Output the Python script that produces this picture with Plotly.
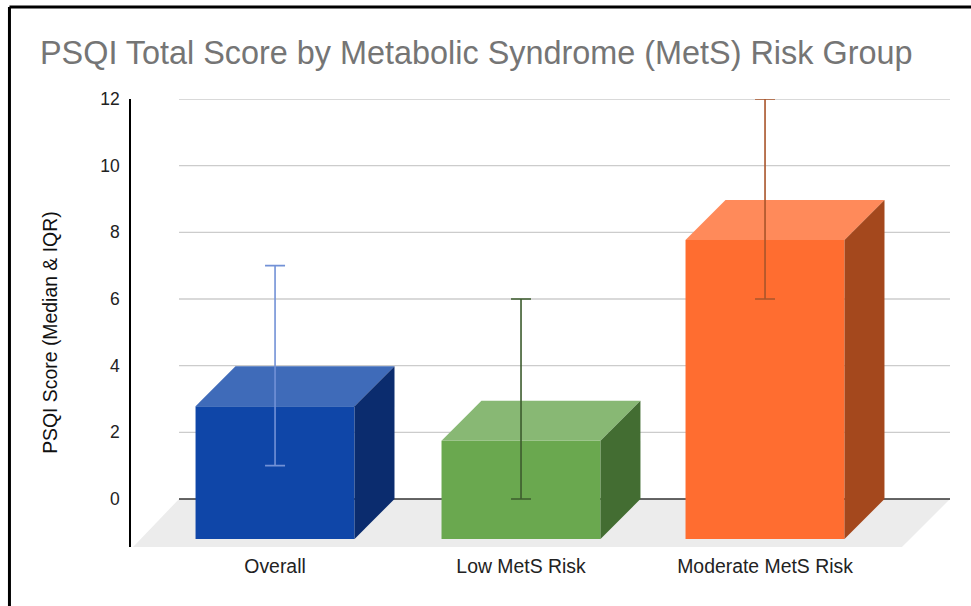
import plotly.graph_objects as go

# --- data ---
categories = ["Overall", "Low MetS Risk", "Moderate MetS Risk"]
medians = [3.98, 2.95, 8.97]
q1 = [1, 0, 6]
q3 = [7, 6, 12]
y_ticks = [0, 2, 4, 6, 8, 10, 12]

# --- styles ---
front_colors = ["#0f46a8", "#6aa84f", "#ff6d30"]
top_colors = ["#3f6bb9", "#88b874", "#ff8a5a"]
side_colors = ["#0b2c6e", "#436d32", "#a4481d"]
err_colors = ["#7291d6", "#3d5c2e", "#a9552b"]
positions = [0, 1.004, 2]

BAR_W = 0.649
DX = 0.163     # depth of the fake 3D view, x units
DY = 1.2       # depth of the fake 3D view, y units
X_MIN, X_MAX = -0.588, 2.755
Y_MIN, Y_MAX = -1.44, 12
FONT = "Liberation Sans"
TEXT_SIZE = 19.4
TICK_SIZE = 17.5

fig = go.Figure()

# front faces
fig.add_trace(go.Bar(
    x=positions, y=medians, base=[-DY] * 3, width=[BAR_W] * 3,
    marker=dict(color=front_colors, line=dict(width=0)),
    hoverinfo="skip", showlegend=False,
))

# top and side faces
for p, m, tc, sc in zip(positions, medians, top_colors, side_colors):
    l, r = p - BAR_W / 2, p + BAR_W / 2
    fig.add_trace(go.Scatter(
        x=[l, r, r + DX, l + DX, l], y=[m - DY, m - DY, m, m, m - DY],
        mode="lines", fill="toself", fillcolor=tc, line=dict(width=0),
        hoverinfo="skip", showlegend=False,
    ))
    fig.add_trace(go.Scatter(
        x=[r, r + DX, r + DX, r, r], y=[-DY, 0, m, m - DY, -DY],
        mode="lines", fill="toself", fillcolor=sc, line=dict(width=0),
        hoverinfo="skip", showlegend=False,
    ))

# IQR whiskers
for p, m, a, b, c in zip(positions, medians, q1, q3, err_colors):
    fig.add_trace(go.Scatter(
        x=[p], y=[m], mode="markers", marker=dict(size=1, opacity=0),
        error_y=dict(type="data", symmetric=False, array=[b - m], arrayminus=[m - a],
                     color=c, thickness=1.6, width=10),
        hoverinfo="skip", showlegend=False,
    ))

# floor, back-wall gridlines, zero line, frame
shapes = [dict(
    type="path", xref="x", yref="y", layer="below", fillcolor="#ececec",
    line=dict(width=0),
    path=f"M -0.5796 {Y_MIN} L -0.392 0 L {X_MAX} 0 L 2.559 {Y_MIN} Z",
)]
for t in y_ticks:
    shapes.append(dict(
        type="line", xref="x", yref="y", layer="below",
        x0=-0.392, x1=X_MAX, y0=t, y1=t,
        line=dict(color="#333333" if t == 0 else "#cccccc", width=1.4),
    ))
shapes.append(dict(type="line", xref="paper", yref="paper", x0=-0.1484, x1=1.03, y0=1.2054, y1=1.2054,
                   line=dict(color="black", width=3)))
shapes.append(dict(type="line", xref="paper", yref="paper", x0=-0.1484, x1=-0.1484, y0=-0.14, y1=1.2054,
                   line=dict(color="black", width=3)))

fig.update_layout(
    width=971, height=606, autosize=False,
    margin=dict(l=131, r=21, t=99, b=59, pad=0),
    paper_bgcolor="white", plot_bgcolor="rgba(0,0,0,0)",
    font=dict(family=FONT, size=TEXT_SIZE, color="#222222"),
    title=dict(text="PSQI Total Score by Metabolic Syndrome (MetS) Risk Group",
               font=dict(family=FONT, size=32.4, color="#757575"),
               x=40 / 971, xanchor="left", xref="container",
               y=1 - 53 / 606, yanchor="middle", yref="container"),
    xaxis=dict(range=[X_MIN, X_MAX], tickmode="array", tickvals=positions, ticktext=categories,
               showgrid=False, zeroline=False, showline=False, ticks="", ticklabelstandoff=6,
               tickfont=dict(family=FONT, size=TEXT_SIZE, color="#222222")),
    yaxis=dict(range=[Y_MIN, Y_MAX], tickmode="array", tickvals=y_ticks,
               showgrid=False, zeroline=False, showline=True, linecolor="black", linewidth=1.5,
               ticks="", ticklabelstandoff=6, tickfont=dict(family=FONT, size=TICK_SIZE, color="#222222")),
    shapes=shapes,
    annotations=[dict(text="PSQI Score (Median &amp; IQR)", textangle=-90, xref="paper", yref="paper",
                      x=-0.0989, y=0.478, xanchor="center", yanchor="middle", showarrow=False,
                      font=dict(family=FONT, size=TEXT_SIZE, color="#111111"))],
)
fig.write_html("out.html", config=dict(displayModeBar=False),
               post_script="document.body.style.margin='0';")
